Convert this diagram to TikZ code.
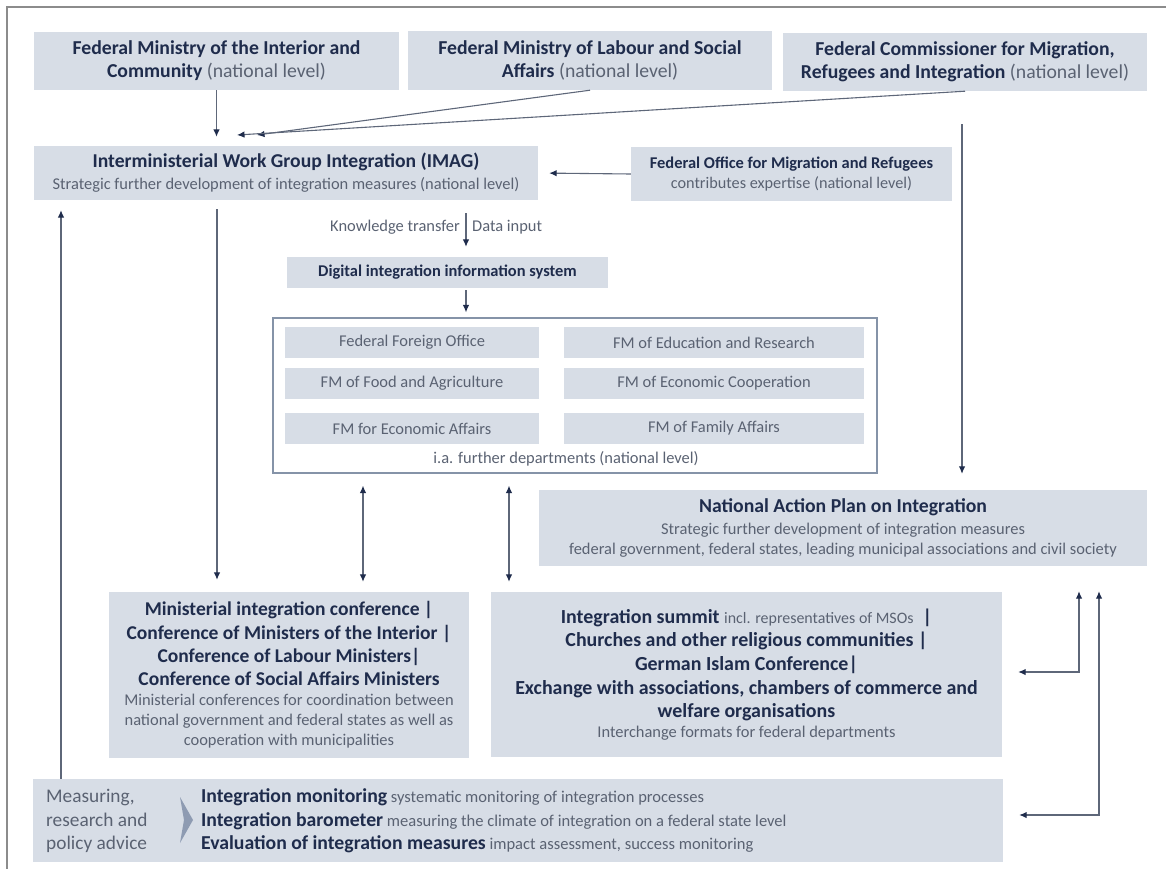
\documentclass[tikz,border=0pt]{standalone}
\usepackage{fontspec}
\setmainfont{Carlito}
\usetikzlibrary{arrows.meta}

\definecolor{boxfill}{HTML}{D7DDE6}
\definecolor{navy}{HTML}{1F2C4C}
\definecolor{txtgray}{HTML}{5A6272}
\definecolor{linegray}{HTML}{5E6779}
\definecolor{framegray}{HTML}{8593A8}
\definecolor{chevron}{HTML}{8E9BB2}
\definecolor{bordergray}{HTML}{8C8C8C}

\newcommand{\navyb}[1]{\textcolor{navy}{\bfseries #1}}

\begin{document}
\begin{tikzpicture}%
[x=1bp, y=-1bp,%
box/.style={fill=boxfill, inner sep=0pt, align=center, text=txtgray},%
dept/.style={box, minimum height=31bp, font=\fontsize{16.5}{19}\selectfont},%
lbl/.style={inner sep=0pt, text=txtgray, font=\fontsize{16.5}{19}\selectfont},%
arr/.style={draw=linegray, line width=1.1bp, -{Latex[length=7.5bp,width=6.5bp,color=navy]}},%
arrboth/.style={draw=linegray, line width=1.1bp,%
  {Latex[length=7.5bp,width=6.5bp,color=navy]}-{Latex[length=7.5bp,width=6.5bp,color=navy]}}]

\useasboundingbox (0,0) rectangle (1166,869);
\draw[bordergray, line width=1.5bp] (7,869) -- (7,7) -- (1166,7);

% national level
\node[box, minimum width=365bp, minimum height=58bp, font=\fontsize{19.8}{23}\selectfont]
  (interior) at (216.5,61) {\navyb{Federal Ministry of the Interior and}\\\navyb{Community} (national level)};
\node[box, minimum width=364bp, minimum height=59bp, font=\fontsize{19.8}{23}\selectfont]
  (labour) at (590,60.5) {\navyb{Federal Ministry of Labour and Social}\\\navyb{Affairs} (national level)};
\node[box, minimum width=364bp, minimum height=58bp, font=\fontsize{19.8}{23}\selectfont]
  (commissioner) at (965,62) {\navyb{Federal Commissioner for Migration,}\\\navyb{Refugees and Integration} (national level)};

\node[box, minimum width=504bp, minimum height=54bp, font=\fontsize{16.5}{22}\selectfont]
  (imag) at (286,173) {{\fontsize{19.7}{22}\selectfont\navyb{Interministerial Work Group Integration (IMAG)}}\\
  Strategic further development of integration measures (national level)};
\node[box, minimum width=321bp, minimum height=54bp, font=\fontsize{16.3}{21}\selectfont]
  (bamf) at (791.5,174) {{\fontsize{16.5}{21}\selectfont\navyb{Federal Office for Migration and Refugees}}\\
  contributes expertise (national level)};

\node[lbl, anchor=east] (knowledge) at (460,227) {Knowledge transfer};
\node[lbl, anchor=west] (datainput) at (472,227) {Data input};
\node[box, minimum width=321bp, minimum height=31bp, font=\fontsize{16.5}{19}\selectfont]
  (digital) at (447.5,272.5) {\navyb{Digital integration information system}};

% departments
\node[draw=framegray, line width=1.2bp, minimum width=604bp, minimum height=155bp, inner sep=0pt]
  (depts) at (575,395.5) {};
\node[dept, minimum width=254bp] (foreign) at (412,342.5) {Federal Foreign Office};
\node[dept, minimum width=300bp] (education) at (714,342.5) {FM of Education and Research};
\node[dept, minimum width=254bp] (food) at (412,383.5) {FM of Food and Agriculture};
\node[dept, minimum width=300bp] (cooperation) at (714,383.5) {FM of Economic Cooperation};
\node[dept, minimum width=254bp] (economic) at (412,428.5) {FM for Economic Affairs};
\node[dept, minimum width=300bp] (family) at (714,428.5) {FM of Family Affairs};
\node[lbl] (further) at (566,459) {i.a. further departments (national level)};

\node[box, minimum width=608bp, minimum height=76bp, font=\fontsize{16.5}{19.5}\selectfont]
  (nap) at (843,528) {{\fontsize{19.8}{19.5}\selectfont\navyb{National Action Plan on Integration}}\\[2.5bp]
  Strategic further development of integration measures\\
  federal government, federal states, leading municipal associations and civil society};

% conferences
\node[box, minimum width=360bp, minimum height=166bp, font=\fontsize{19.6}{23.3}\selectfont]
  (minconf) at (289,675) {\navyb{Ministerial integration conference |}\\
  \navyb{Conference of Ministers of the Interior |}\\
  \navyb{Conference of Labour Ministers|}\\
  \navyb{Conference of Social Affairs Ministers}\\[-3bp]
  {\fontsize{16.5}{20}\selectfont Ministerial conferences for coordination between}\\[-3.3bp]
  {\fontsize{16.5}{20}\selectfont national government and federal states as well as}\\[-3.3bp]
  {\fontsize{16.5}{20}\selectfont cooperation with municipalities}};
\node[box, minimum width=511bp, minimum height=165bp, font=\fontsize{20}{23.7}\selectfont]
  (summit) at (746.5,674.5) {\navyb{Integration summit} {\fontsize{16}{19}\selectfont incl. representatives of MSOs}\ \ \navyb{|}\\
  \navyb{Churches and other religious communities |}\\
  \navyb{German Islam Conference|}\\
  \navyb{Exchange with associations, chambers of commerce and}\\
  \navyb{welfare organisations}\\[-3.7bp]
  {\fontsize{16.5}{20}\selectfont Interchange formats for federal departments}};

% monitoring
\node[box, minimum width=970bp, minimum height=83bp] (measure) at (518,820.5) {};
\node[inner sep=0pt, anchor=west, align=left, text=txtgray, font=\fontsize{19.4}{23.5}\selectfont]
  (measuring) at (46,821) {Measuring,\\research and\\policy advice};
\fill[chevron] (180,797) -- (193,820) -- (180,843) -- (184,820) -- cycle;
\node[inner sep=0pt, anchor=west, align=left, text=txtgray, font=\fontsize{16.6}{23.5}\selectfont]
  (tools) at (201,821) {{\fontsize{19.8}{23.5}\selectfont\navyb{Integration monitoring}} systematic monitoring of integration processes\\
  {\fontsize{19.8}{23.5}\selectfont\navyb{Integration barometer}} measuring the climate of integration on a federal state level\\
  {\fontsize{19.8}{23.5}\selectfont\navyb{Evaluation of integration measures}} impact assessment, success monitoring};

% connectors
\coordinate (labin) at (257,135);
\coordinate (comin) at (237,135);
\coordinate (comdown) at (962,124);
\coordinate (kt) at (466,213);
\coordinate (mdown) at (217,209);
\coordinate (d1) at (363,0);
\coordinate (d2) at (509,0);
\coordinate (up1) at (61,0);
\coordinate (r1) at (1079,672);
\coordinate (r2) at (1099,815);

\draw[arr, shorten >=9bp] (interior.south) -- (interior.south |- imag.north);
\draw[arr] (labour.south) -- (labin);
\draw[arr] (commissioner.south) -- (comin);
\draw[arr, shorten >=16bp] (comdown) -- (comdown |- nap.north);
\draw[arr, shorten >=11bp] (bamf.west) -- (imag.east);
\draw[arr, shorten >=10bp] (kt) -- (kt |- digital.north);
\draw[arr, shorten <=2bp, shorten >=5bp] (kt |- digital.south) -- (kt |- depts.north);
\draw[arr, shorten >=12bp] (mdown) -- (mdown |- minconf.north);
\draw[arrboth, shorten <=12bp, shorten >=10bp] (depts.south -| d1) -- (d1 |- minconf.north);
\draw[arrboth, shorten <=12bp, shorten >=10bp] (depts.south -| d2) -- (d2 |- summit.north);
\draw[arr, shorten >=10bp] (measure.north -| up1) -- (up1 |- imag.south);
\draw[arrboth, shorten <=25bp, shorten >=16bp] (nap.south -| r1) |- (summit.east |- r1);
\draw[arrboth, shorten <=25bp, shorten >=16bp] (nap.south -| r2) |- (measure.east |- r2);
\end{tikzpicture}
\end{document}
